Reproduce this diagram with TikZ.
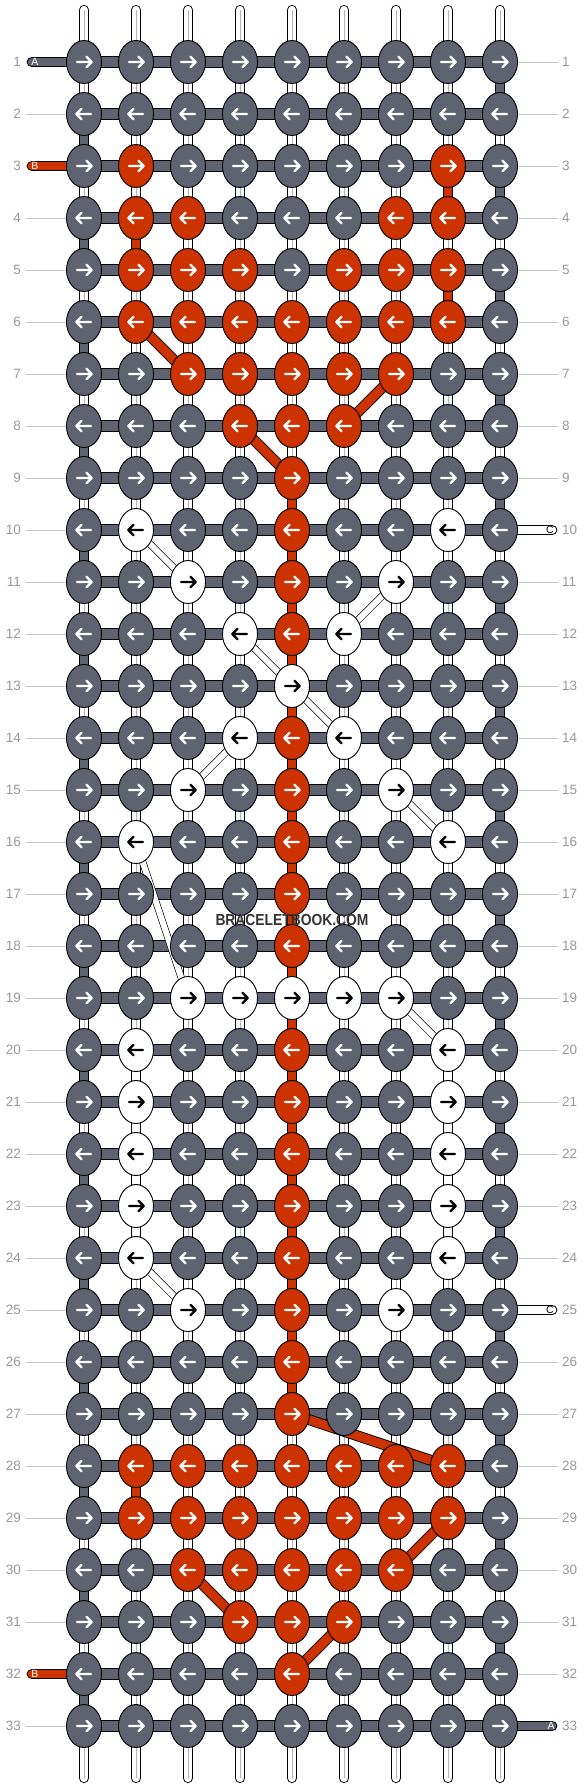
\documentclass[tikz,border=0pt]{standalone}
\usepackage{fontspec}
\setmainfont{Liberation Sans}
\usetikzlibrary{shapes.geometric}
\definecolor{kgray}{HTML}{5F6371}
\definecolor{korange}{HTML}{CC3300}
\definecolor{lblgray}{HTML}{999999}
\definecolor{rulegray}{HTML}{C6C6C6}
\definecolor{strgray}{HTML}{B4B4B4}
\definecolor{wmgray}{HTML}{333333}

\newcommand\setk[3]{\foreach \cc in {#3}{\expandafter\xdef\csname kc-#2-\cc\endcsname{#1}}}
\newcommand\setv[3]{\foreach \cc in {#3}{\expandafter\xdef\csname vc-#2-\cc\endcsname{#1}}}
\def\wname{white}

% knot colours
\setk{korange}{3}{2,8}
\setk{korange}{4}{2,3,7,8}
\setk{korange}{5}{2,3,4,6,7,8}
\setk{korange}{6}{2,...,8}
\setk{korange}{7}{3,...,7}
\setk{korange}{8}{4,5,6}
\foreach \rr in {9,...,12}{\setk{korange}{\rr}{5}}
\foreach \rr in {14,...,18}{\setk{korange}{\rr}{5}}
\foreach \rr in {20,...,27}{\setk{korange}{\rr}{5}}
\setk{korange}{28}{2,...,8}
\setk{korange}{29}{2,...,8}
\setk{korange}{30}{3,...,7}
\setk{korange}{31}{4,5,6}
\setk{korange}{32}{5}
\setk{white}{10}{2,8}
\setk{white}{11}{3,7}
\setk{white}{12}{4,6}
\setk{white}{13}{5}
\setk{white}{14}{4,6}
\setk{white}{15}{3,7}
\setk{white}{16}{2,8}
\setk{white}{19}{3,...,7}
\foreach \rr in {20,...,24}{\setk{white}{\rr}{2,8}}
\setk{white}{25}{3,7}

% vertical connector types
\foreach \rr in {1,3,...,31}{\setv{vgray}{\rr}{9}}
\foreach \rr in {2,4,...,32}{\setv{vgray}{\rr}{1}}
\setv{vorange}{3}{8}
\setv{vorange}{4}{2}
\setv{vorange}{5}{8}
\foreach \rr in {9,...,26}{\setv{vorange}{\rr}{5}}
\setv{vorange}{28}{2}
\foreach \rr in {20,...,23}{\setv{vwhite}{\rr}{2,8}}

% rows without guide lines
\expandafter\def\csname nol-1\endcsname{}
\expandafter\def\csname nol-3\endcsname{}
\expandafter\def\csname nol-32\endcsname{}
\expandafter\def\csname nor-10\endcsname{}
\expandafter\def\csname nor-25\endcsname{}
\expandafter\def\csname nor-33\endcsname{}

\tikzset{
 hbar/.style={draw=black, line width=0.9pt, double=kgray, double distance=10.2pt},
 vstring/.style={preaction={draw=black, line width=0.9pt, double=white, double distance=8.4pt, line cap=round}, draw=strgray, line width=0.9pt},
 vgray/.style={draw=black, line width=0.9pt, double=kgray, double distance=8.4pt},
 vorange/.style={draw=black, line width=0.9pt, double=korange, double distance=8.4pt},
 vwhite/.style={draw=black, line width=0.9pt, double=white, double distance=8.4pt},
 odiag/.style={draw=black, line width=0.9pt, double=korange, double distance=9pt},
 wdiag/.style={draw=black, line width=0.6pt, double=white, double distance=6pt},
 stub/.style={draw=black, line width=1pt, double distance=8.8pt, line cap=round},
 knot/.style={ellipse, draw=black, line width=0.9pt, minimum width=35pt, minimum height=43pt, inner sep=0pt},
 arr/.style={line width=2.3pt, line cap=round, line join=round},
 rowlbl/.style={text=lblgray, font=\fontsize{13.5}{13.5}\selectfont, inner sep=0pt},
 rule/.style={draw=rulegray, line width=1pt},
 stublbl/.style={font=\fontsize{10.5}{10.5}\selectfont, inner sep=0pt},
}

\begin{document}
\begin{tikzpicture}[x=1pt,y=-1pt]
\useasboundingbox (0,0) rectangle (584,1788);

% grid coordinates
\foreach \r in {1,...,33}{\foreach \c in {1,...,9}{\coordinate (p-\r-\c) at ({32+52*\c},{10+52*\r});}}

% guide lines to row numbers
\foreach \r in {1,...,33}{
  \pgfmathsetmacro\y{10+52*\r}
  \coordinate (la-\r) at (26,\y);
  \coordinate (ra-\r) at (558,\y);
  \ifcsname nol-\r\endcsname\else\draw[rule] (la-\r) -- (p-\r-1);\fi
  \ifcsname nor-\r\endcsname\else\draw[rule] (p-\r-9) -- (ra-\r);\fi
}

% loose string ends top and bottom
\foreach \c in {1,...,9}{
  \pgfmathsetmacro\x{32+52*\c}
  \coordinate (t-\c) at (\x,10);
  \coordinate (b-\c) at (\x,1778);
  \draw[vstring] (t-\c) -- (p-1-\c);
  \draw[vstring] (p-33-\c) -- (b-\c);
}

% horizontal bars
\foreach \r in {1,...,33}{\foreach \c [count=\n from 2] in {1,...,8}{\draw[hbar] (p-\r-\c) -- (p-\r-\n);}}

% vertical connectors
\foreach \r [count=\rn from 2] in {1,...,32}{\foreach \c in {1,...,9}{
  \edef\vst{\ifcsname vc-\r-\c\endcsname\csname vc-\r-\c\endcsname\else vstring\fi}
  \edef\tmp{\noexpand\draw[\vst] (p-\r-\c) -- (p-\rn-\c);}\tmp
}}

% thread stubs
\coordinate (sA1) at (32,62);
\coordinate (sB3) at (32,166);
\coordinate (sB32) at (32,1674);
\coordinate (sC10) at (552,530);
\coordinate (sC25) at (552,1310);
\coordinate (sA33) at (552,1726);
\draw[stub, double=kgray] (sA1) -- (p-1-1);
\draw[stub, double=korange] (sB3) -- (p-3-1);
\draw[stub, double=korange] (sB32) -- (p-32-1);
\draw[stub, double=white] (p-10-9) -- (sC10);
\draw[stub, double=white] (p-25-9) -- (sC25);
\draw[stub, double=kgray] (p-33-9) -- (sA33);

% diagonal connectors
\draw[odiag] (p-6-2) -- (p-7-3);
\draw[odiag] (p-7-7) -- (p-8-6);
\draw[odiag] (p-8-4) -- (p-9-5);
\draw[odiag] (p-27-5) -- (p-28-8);
\draw[odiag] (p-29-8) -- (p-30-7);
\draw[odiag] (p-30-3) -- (p-31-4);
\draw[odiag] (p-31-6) -- (p-32-5);
\draw[wdiag] (p-10-2) -- (p-11-3);
\draw[wdiag] (p-11-7) -- (p-12-6);
\draw[wdiag] (p-12-4) -- (p-13-5);
\draw[wdiag] (p-13-5) -- (p-14-6);
\draw[wdiag] (p-14-4) -- (p-15-3);
\draw[wdiag] (p-15-7) -- (p-16-8);
\draw[wdiag] (p-16-2) -- (p-19-3);
\draw[wdiag] (p-19-7) -- (p-20-8);
\draw[wdiag] (p-24-2) -- (p-25-3);

% knots
\foreach \r in {1,...,33}{
  \pgfmathtruncatemacro\d{mod(\r,2)==1 ? 1 : -1}
  \foreach \c in {1,...,9}{
    \edef\kc{\ifcsname kc-\r-\c\endcsname\csname kc-\r-\c\endcsname\else kgray\fi}
    \ifx\kc\wname\def\ac{black}\else\def\ac{white}\fi
    \node[knot, fill=\kc] (k-\r-\c) at (p-\r-\c) {};
    \draw[arr, draw=\ac, shift={(p-\r-\c)}, xscale=\d] (-7,0) -- (7,0) (2.5,-5.2) -- (7.7,0) -- (2.5,5.2);
  }
}

% row numbers
\foreach \r in {1,...,33}{
  \pgfmathsetmacro\y{10+52*\r}
  \node[rowlbl, anchor=east] (ll-\r) at (21,\y) {\r};
  \node[rowlbl, anchor=west] (rl-\r) at (562,\y) {\r};
}

% stub letters
\node[stublbl, text=white] (lA1) at (35,62) {A};
\node[stublbl, text=white] (lB3) at (35,166) {B};
\node[stublbl, text=white] (lB32) at (35,1674) {B};
\node[stublbl, text=black] (lC10) at (550,530) {C};
\node[stublbl, text=black] (lC25) at (550,1310) {C};
\node[stublbl, text=white] (lA33) at (551,1726) {A};

% watermark
\node[font=\bfseries\fontsize{16}{16}\selectfont, text=wmgray, inner sep=0pt] (wm) at (292,920) {\scalebox{0.865}[1]{BRACELETBOOK.COM}};
\end{tikzpicture}
\end{document}
